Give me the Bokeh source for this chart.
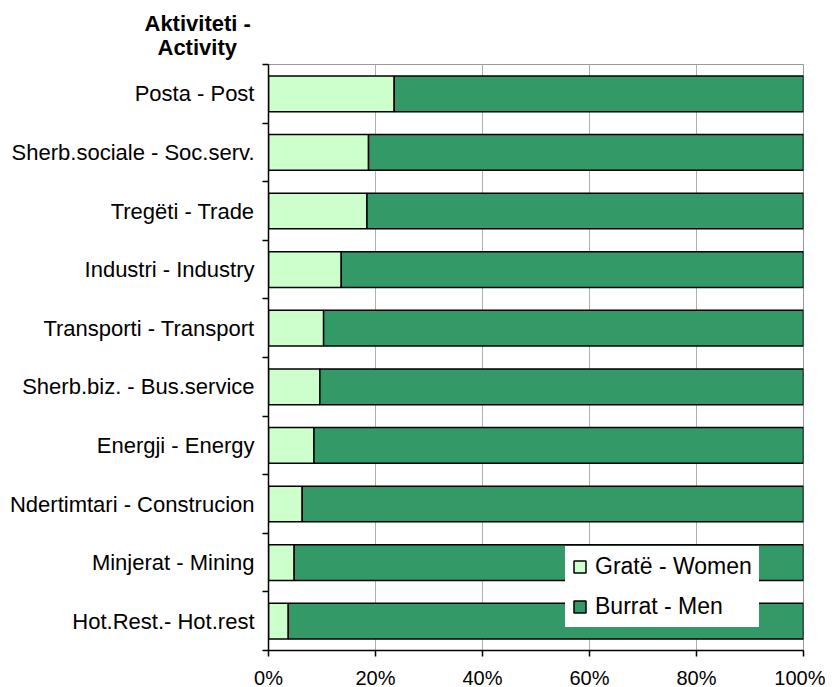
from bokeh.plotting import figure
from bokeh.models import Range1d, FixedTicker, Legend, LegendItem, Title, ColumnDataSource
from bokeh.embed import file_html
from bokeh.resources import INLINE

categories = ["Posta - Post", "Sherb.sociale - Soc.serv.", "Tregëti - Trade",
              "Industri - Industry", "Transporti - Transport", "Sherb.biz. - Bus.service",
              "Energji - Energy", "Ndertimtari - Construcion", "Minjerat - Mining",
              "Hot.Rest.- Hot.rest"]
women = [23.5, 18.7, 18.4, 13.6, 10.3, 9.6, 8.5, 6.3, 4.8, 3.7]
men = [100 - w for w in women]
x_ticks = [0, 20, 40, 60, 80, 100]
x_tick_labels = ["0%", "20%", "40%", "60%", "80%", "100%"]
series_names = ["Gratë - Women", "Burrat - Men"]
title_lines = ["Aktiviteti -", "Activity"]

FONT = "Liberation Sans"
n = len(categories)
ypos = [n - i - 0.5 for i in range(n)]

src = ColumnDataSource(dict(y=ypos, women=women, men=men))

p = figure(frame_width=535, frame_height=586, output_backend="svg", toolbar_location=None,
           title=None,
           x_range=Range1d(0, 100), y_range=Range1d(0, n),
           min_border_left=268, min_border_right=22, min_border_top=64, min_border_bottom=10,
           background_fill_color="white", border_fill_color="white")
p.outline_line_color = "#999999"
p.outline_line_width = 1

rs = p.hbar_stack(["women", "men"], y="y", height=0.61, source=src,
                  color=["#CCFFCC", "#339966"], line_color="black", line_width=1.5)

# x axis
p.xaxis.ticker = FixedTicker(ticks=x_ticks)
p.xaxis.major_label_overrides = {t: l for t, l in zip(x_ticks, x_tick_labels)}
p.xaxis.major_tick_out = 6
p.xaxis.major_tick_in = 0
p.xaxis.minor_tick_out = 0
p.xaxis.minor_tick_in = 0
p.xaxis.axis_line_color = "black"
p.xaxis.axis_line_width = 1.5
p.xaxis.major_tick_line_color = "black"
p.xaxis.major_tick_line_width = 1.5
p.xaxis.major_label_text_font = FONT
p.xaxis.major_label_text_font_size = "20px"
p.xaxis.major_label_text_color = "black"
p.xaxis.major_label_standoff = 10

# y axis
p.yaxis.ticker = FixedTicker(ticks=ypos, minor_ticks=list(range(n + 1)))
p.yaxis.major_label_overrides = {y: c for y, c in zip(ypos, categories)}
p.yaxis.major_tick_out = 0
p.yaxis.major_tick_in = 0
p.yaxis.minor_tick_out = 6
p.yaxis.minor_tick_in = 0
p.yaxis.minor_tick_line_color = "black"
p.yaxis.minor_tick_line_width = 1.5
p.yaxis.axis_line_color = "black"
p.yaxis.axis_line_width = 1.5
p.yaxis.major_label_text_font = FONT
p.yaxis.major_label_text_font_size = "22px"
p.yaxis.major_label_text_color = "black"
p.yaxis.major_label_standoff = 8

p.xgrid.grid_line_color = "#b0b0b0"
p.xgrid.grid_line_width = 1
p.ygrid.grid_line_color = None

legend = Legend(items=[LegendItem(label=series_names[0], renderers=[rs[0]]),
                       LegendItem(label=series_names[1], renderers=[rs[1]])],
                location=(297, 23))
legend.label_text_font = FONT
legend.label_text_font_size = "23px"
legend.label_text_color = "black"
legend.label_height = 26
legend.glyph_height = 15
legend.glyph_width = 15
legend.label_standoff = 8
legend.spacing = 13
legend.padding = 7
legend.border_line_alpha = 0
legend.background_fill_color = "white"
legend.background_fill_alpha = 1
p.add_layout(legend)

# two-line title, closest line first
for txt, off, so in [(title_lines[1], -111, 10), (title_lines[0], -124, -16)]:
    p.add_layout(Title(text=txt, align="left", offset=off, standoff=so,
                       text_font=FONT, text_font_size="22px", text_font_style="bold",
                       text_color="black"), "above")

open("out.html", "w").write(file_html(p, INLINE))
